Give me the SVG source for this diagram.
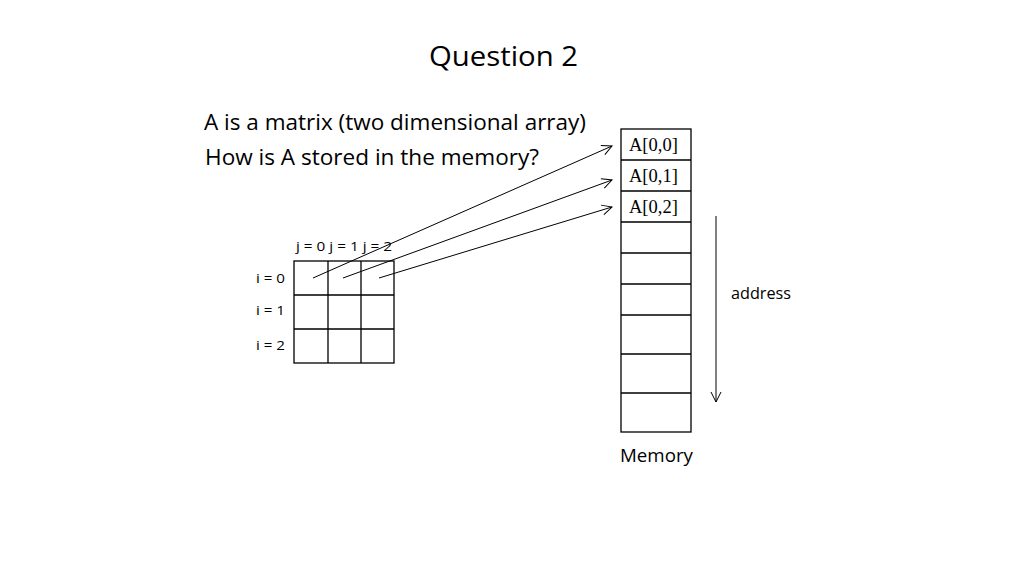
<svg xmlns="http://www.w3.org/2000/svg" width="1024" height="576" viewBox="0 0 1024 576">
<defs>
<style>
.t{font-family:"Open Sans","Liberation Sans",sans-serif;fill:#000}
.s{font-family:"Liberation Serif",serif;fill:#000;font-size:18.5px}
.c{fill:#fff;stroke:#000;stroke-width:1.3}
.g{stroke:#000;stroke-width:1.3;fill:none}
.a{stroke:#000;stroke-width:1;fill:none}
</style>
<marker id="arr" viewBox="0 0 12 12" refX="11" refY="6" markerWidth="12" markerHeight="12" markerUnits="userSpaceOnUse" orient="auto">
<path d="M1,1 L11,6 L1,11" fill="none" stroke="#000" stroke-width="1"/>
</marker>
</defs>
<rect width="1024" height="576" fill="#fff"/>
<g id="title"><text class="t" x="429" y="66" font-size="28" textLength="149" lengthAdjust="spacingAndGlyphs">Question 2</text></g>
<g id="desc">
<text class="t" x="204" y="130" font-size="21" textLength="382" lengthAdjust="spacingAndGlyphs">A is a matrix (two dimensional array)</text>
<text class="t" x="205" y="165" font-size="21" textLength="334" lengthAdjust="spacingAndGlyphs">How is A stored in the memory?</text>
</g>
<g id="matrix">
<rect class="c" x="294" y="261" width="100" height="102"/>
<path class="g" d="M328,261V363M361,261V363M294,295H394M294,329H394"/>
<text class="t" x="296" y="251" font-size="13" textLength="96" lengthAdjust="spacingAndGlyphs">j = 0 j = 1 j = 2</text>
<text class="t" x="256" y="283" font-size="13" textLength="29" lengthAdjust="spacingAndGlyphs">i = 0</text>
<text class="t" x="256" y="315" font-size="13" textLength="29" lengthAdjust="spacingAndGlyphs">i = 1</text>
<text class="t" x="256" y="350" font-size="13" textLength="29" lengthAdjust="spacingAndGlyphs">i = 2</text>
</g>
<g id="memory">
<rect class="c" x="621" y="129" width="70" height="303"/>
<path class="g" d="M621,160H691M621,191H691M621,222H691M621,253H691M621,284H691M621,315H691M621,354H691M621,393H691"/>
<text class="s" x="629" y="151">A[0,0]</text>
<text class="s" x="629" y="182">A[0,1]</text>
<text class="s" x="629" y="213">A[0,2]</text>
<text class="t" x="620" y="462" font-size="19" textLength="73" lengthAdjust="spacingAndGlyphs">Memory</text>
</g>
<g id="address">
<line class="a" x1="716" y1="216" x2="716" y2="402" marker-end="url(#arr)"/>
<text class="t" x="731" y="299" font-size="16" textLength="60" lengthAdjust="spacingAndGlyphs">address</text>
</g>
<g id="connectors">
<line class="a" x1="313" y1="278" x2="612" y2="146" marker-end="url(#arr)"/>
<line class="a" x1="343" y1="278" x2="612" y2="180" marker-end="url(#arr)"/>
<line class="a" x1="379" y1="278" x2="612" y2="207" marker-end="url(#arr)"/>
</g>
</svg>
